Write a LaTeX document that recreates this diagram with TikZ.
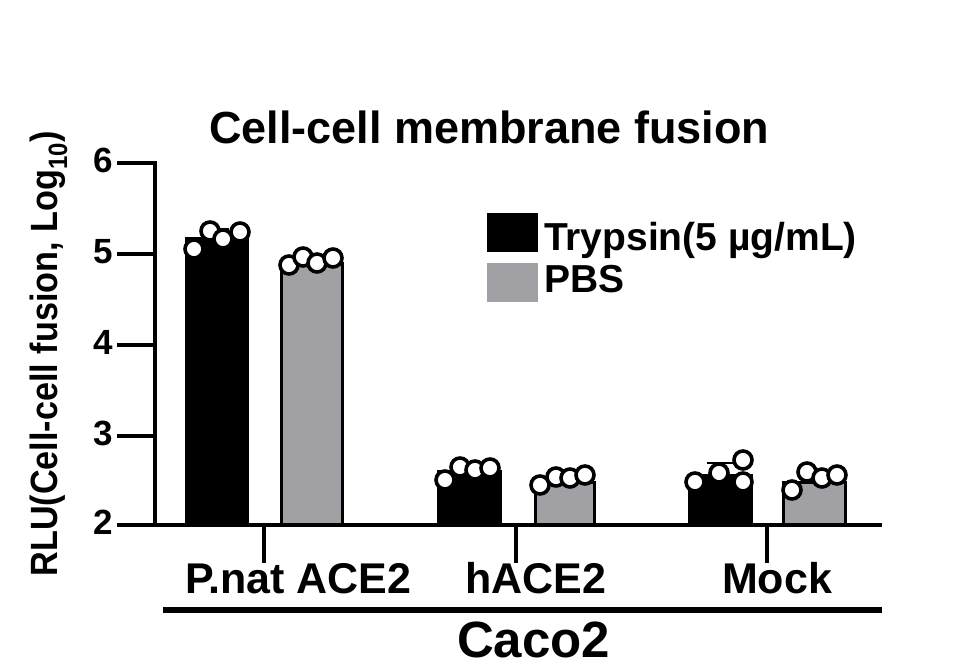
\documentclass[tikz,border=0pt]{standalone}
\usepackage{fontspec}
\setmainfont{Liberation Sans}
\definecolor{pbsgray}{RGB}{160,160,165}
\begin{document}
\begin{tikzpicture}[x=1pt,y=-1pt,
  txt/.style={inner sep=0pt,outer sep=0pt,font=\bfseries},
  axisline/.style={line width=4pt},
  tickline/.style={line width=3.2pt},
  tbar/.style={fill=black,draw=black,line width=1pt},
  pbar/.style={fill=pbsgray,draw=black,line width=3pt},
  errbar/.style={line width=2.5pt},
  dot/.style={circle,draw=black,fill=white,line width=3.6pt,minimum size=18pt,inner sep=0pt}]
\useasboundingbox (0,0) rectangle (962,670);
% title
\node[txt,anchor=base west,font=\bfseries\fontsize{45}{45}\selectfont] (title) at (209,143) {Cell-cell membrane fusion};
% y axis
\coordinate (ytop) at (155,161);
\coordinate (ybot) at (155,527);
\draw[axisline] (ytop) -- (ybot);
\foreach \v/\yy in {6/163,5/254,4/345,3/436,2/525}{
  \coordinate (t\v) at (155,\yy);
  \coordinate (tl\v) at (117,\yy);
  \draw[tickline] (tl\v) -- (t\v);
  \node[txt,anchor=base east,font=\bfseries\fontsize{35}{35}\selectfont] (lab\v) at (113,\yy+9) {\v};
}
% y label
\node[txt,anchor=base,rotate=90,font=\bfseries\fontsize{38}{38}\selectfont] (ylabel) at (57,354)
  {\scalebox{0.9}[1]{RLU(Cell-cell fusion, Log\textsubscript{10})}};
% x axis
\coordinate (xl) at (153,525);
\coordinate (xr) at (882,525);
% bars
\path[tbar] (185,237) rectangle (248,525);
\path[pbar] (281,263) rectangle (342,525);
\path[tbar] (437,470) rectangle (501,525);
\path[pbar] (535,482) rectangle (594,525);
\path[tbar] (688,474) rectangle (752,525);
\path[pbar] (783,482) rectangle (845,525);
% error bars
\foreach \cx/\my/\ty in {216/237/229,311/263/257,469/470/463,564/482/476,720/474/463,814/482/478}{
  \draw[errbar] (\cx,\my) -- (\cx,\ty);
  \draw[errbar] (\cx-13,\ty) -- (\cx+13,\ty);
}
\draw[axisline] (xl) -- (xr);
% data points
\foreach \px/\py [count=\i] in {194/249,210/231,223/239,240/232,
  289/265,303/257,317/263,333/258,
  445/480,460/467,475/470,490/468,
  540/485,556/477,570/478,585/475,
  695/482,719/473,743/460,743/482,
  792/490,807/472,822/478,837/475}{
  \node[dot] (d\i) at (\px,\py) {};
}
% category ticks and labels
\foreach \cx/\nm in {264/a,516/b,767/c}{
  \coordinate (ct\nm) at (\cx,525);
  \coordinate (cb\nm) at (\cx,563);
  \draw[tickline] (ct\nm) -- (cb\nm);
}
\node[txt,anchor=base west,font=\bfseries\fontsize{43}{43}\selectfont] (cat1) at (185,593) {P.nat ACE2};
\node[txt,anchor=base west,font=\bfseries\fontsize{43}{43}\selectfont] (cat2) at (465,593) {hACE2};
\node[txt,anchor=base west,font=\bfseries\fontsize{43}{43}\selectfont] (cat3) at (722,593) {Mock};
% group line
\coordinate (gl) at (163,610);
\coordinate (gr) at (882,610);
\draw[line width=6pt] (gl) -- (gr);
\node[txt,anchor=base west,font=\bfseries\fontsize{51}{51}\selectfont] (group) at (457,657) {Caco2};
% legend
\path[fill=black] (487,213) rectangle (538,252);
\path[fill=pbsgray] (487,263) rectangle (538,302);
\node[txt,anchor=base west,font=\bfseries\fontsize{39}{39}\selectfont] (leg1) at (544,250) {Trypsin(5 µg/mL)};
\node[txt,anchor=base west,font=\bfseries\fontsize{39}{39}\selectfont] (leg2) at (544,292) {PBS};
\end{tikzpicture}
\end{document}
